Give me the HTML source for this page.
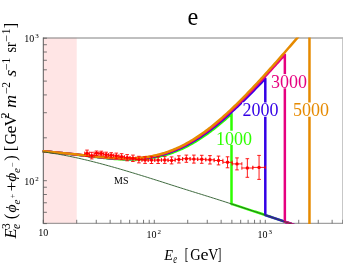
<!DOCTYPE html>
<html><head><meta charset="utf-8"><title>e</title>
<style>
html,body{margin:0;padding:0;background:#fff;}
body{width:343px;height:265px;overflow:hidden;}
svg{display:block;will-change:transform;}
text{font-family:"Liberation Serif","Times New Roman",serif;fill:#000;}
.it{font-style:italic;}
</style></head><body>
<svg width="343" height="265" viewBox="0 0 343 265">
<rect x="0" y="0" width="343" height="265" fill="#fff"/>
<defs><clipPath id="cp"><rect x="42.3" y="37.5" width="301" height="186.4"/></clipPath></defs>
<rect x="43.30" y="37.70" width="33.41" height="186.40" fill="#ffe5e5"/>
<g stroke-width="1" fill="none">
<path d="M43.30 38.00 H343.00" stroke="#808080"/>
<path d="M342.80 38.20 V223.40" stroke="#b0b0b0"/>
<path d="M43.30 37.50 V223.80" stroke="#484848" stroke-width="0.9"/>
<path d="M42.90 223.30 H343.00" stroke="#8a8a8a"/>
<path d="M43.30 223.40 v-3.6 M76.71 223.40 v-3.6 M96.26 223.40 v-3.6 M110.13 223.40 v-3.6 M120.89 223.40 v-3.6 M129.67 223.40 v-3.6 M137.11 223.40 v-3.6 M143.54 223.40 v-3.6 M149.22 223.40 v-3.6 M154.30 223.40 v-3.6 M187.71 223.40 v-3.6 M207.26 223.40 v-3.6 M221.13 223.40 v-3.6 M231.89 223.40 v-3.6 M240.67 223.40 v-3.6 M248.11 223.40 v-3.6 M254.54 223.40 v-3.6 M260.22 223.40 v-3.6 M265.30 223.40 v-3.6 M298.71 223.40 v-3.6 M318.26 223.40 v-3.6 M332.13 223.40 v-3.6 M342.89 223.40 v-3.6 M43.30 223.60 h3.6 M43.30 212.31 h3.6 M43.30 202.77 h3.6 M43.30 194.51 h3.6 M43.30 187.22 h3.6 M43.30 180.70 h3.6 M43.30 137.80 h3.6 M43.30 112.71 h3.6 M43.30 94.91 h3.6 M43.30 81.10 h3.6 M43.30 69.81 h3.6 M43.30 60.27 h3.6 M43.30 52.01 h3.6 M43.30 44.72 h3.6 M43.30 38.20 h3.6" stroke="#555" stroke-width="0.8"/>
</g>
<g clip-path="url(#cp)" fill="none" stroke-linejoin="round">
<path d="M42.50 151.14 L44.00 151.29 L45.50 151.44 L47.00 151.59 L48.50 151.74 L50.00 151.89 L51.50 152.05 L53.00 152.20 L54.50 152.35 L56.00 152.51 L57.50 152.66 L59.00 152.82 L60.50 152.97 L62.00 153.13 L63.50 153.28 L65.00 153.44 L66.50 153.60 L68.00 153.76 L69.50 153.92 L71.00 154.09 L72.50 154.26 L74.00 154.42 L75.50 154.60 L77.00 154.77 L78.50 154.95 L80.00 155.12 L81.50 155.30 L83.00 155.49 L84.50 155.67 L86.00 155.85 L87.50 156.03 L89.00 156.22 L90.50 156.40 L92.00 156.58 L93.50 156.76 L95.00 156.94 L96.50 157.12 L98.00 157.30 L99.50 157.47 L101.00 157.63 L102.50 157.80 L104.00 157.96 L105.50 158.11 L107.00 158.26 L108.50 158.40 L110.00 158.54 L111.50 158.67 L113.00 158.79 L114.50 158.91 L116.00 159.01 L117.50 159.11 L119.00 159.20 L120.50 159.28 L122.00 159.35 L123.50 159.40 L125.00 159.45 L126.50 159.49 L128.00 159.51 L129.50 159.52 L131.00 159.52 L132.50 159.51 L134.00 159.48 L135.50 159.43 L137.00 159.38 L138.50 159.30 L140.00 159.21 L141.50 159.11 L143.00 158.99 L144.50 158.85 L146.00 158.69 L147.50 158.52 L149.00 158.33 L150.50 158.11 L152.00 157.88 L153.50 157.63 L155.00 157.36 L156.50 157.07 L158.00 156.76 L159.50 156.43 L161.00 156.08 L162.50 155.70 L164.00 155.31 L165.50 154.89 L167.00 154.45 L168.50 153.98 L170.00 153.50 L171.50 152.99 L173.00 152.46 L174.50 151.90 L176.00 151.32 L177.50 150.71 L179.00 150.09 L180.50 149.44 L182.00 148.76 L183.50 148.06 L185.00 147.34 L186.50 146.59 L188.00 145.82 L189.50 145.02 L191.00 144.20 L192.50 143.36 L194.00 142.49 L195.50 141.60 L197.00 140.69 L198.50 139.75 L200.00 138.79 L201.50 137.81 L203.00 136.81 L204.50 135.78 L206.00 134.73 L207.50 133.66 L209.00 132.57 L210.50 131.46 L212.00 130.32 L213.50 129.17 L215.00 128.00 L216.50 126.80 L218.00 125.59 L219.50 124.36 L221.00 123.11 L222.50 121.84 L224.00 120.55 L225.50 119.25 L227.00 117.93 L228.50 116.59 L230.00 115.24 L231.50 113.87 L231.50 203.94 L233.00 204.43 L234.50 204.92 L236.00 205.41 L237.50 205.90 L239.00 206.39 L240.50 206.88 L242.00 207.37 L243.50 207.86 L245.00 208.35 L246.50 208.85 L248.00 209.34 L249.50 209.83 L251.00 210.33 L252.50 210.82 L254.00 211.32 L255.50 211.81 L257.00 212.31 L258.50 212.81 L260.00 213.30 L261.50 213.80 L263.00 214.30 L264.50 214.80 L266.00 215.30 L267.50 215.81 L269.00 216.31 L270.50 216.81 L272.00 217.32 L273.50 217.83 L275.00 218.34 L276.50 218.85 L278.00 219.36 L279.50 219.87 L281.00 220.38 L282.50 220.90 L284.00 221.42 L285.50 221.94 L287.00 222.46 L288.50 222.98 L290.00 223.50 L291.50 224.03 L293.00 224.56 L294.50 225.09" stroke="#2eff00" stroke-width="2.5"/>
<path d="M42.50 151.13 L44.00 151.27 L45.50 151.42 L47.00 151.57 L48.50 151.72 L50.00 151.86 L51.50 152.01 L53.00 152.17 L54.50 152.32 L56.00 152.46 L57.50 152.61 L59.00 152.76 L60.50 152.91 L62.00 153.06 L63.50 153.21 L65.00 153.36 L66.50 153.51 L68.00 153.67 L69.50 153.82 L71.00 153.98 L72.50 154.14 L74.00 154.30 L75.50 154.46 L77.00 154.63 L78.50 154.80 L80.00 154.97 L81.50 155.14 L83.00 155.31 L84.50 155.48 L86.00 155.66 L87.50 155.83 L89.00 156.01 L90.50 156.18 L92.00 156.35 L93.50 156.52 L95.00 156.69 L96.50 156.86 L98.00 157.02 L99.50 157.18 L101.00 157.34 L102.50 157.49 L104.00 157.64 L105.50 157.78 L107.00 157.92 L108.50 158.05 L110.00 158.17 L111.50 158.28 L113.00 158.39 L114.50 158.49 L116.00 158.58 L117.50 158.67 L119.00 158.74 L120.50 158.80 L122.00 158.85 L123.50 158.90 L125.00 158.93 L126.50 158.94 L128.00 158.95 L129.50 158.94 L131.00 158.92 L132.50 158.89 L134.00 158.84 L135.50 158.77 L137.00 158.69 L138.50 158.60 L140.00 158.49 L141.50 158.36 L143.00 158.22 L144.50 158.06 L146.00 157.88 L147.50 157.68 L149.00 157.46 L150.50 157.23 L152.00 156.97 L153.50 156.70 L155.00 156.40 L156.50 156.09 L158.00 155.75 L159.50 155.39 L161.00 155.01 L162.50 154.61 L164.00 154.19 L165.50 153.75 L167.00 153.28 L168.50 152.79 L170.00 152.28 L171.50 151.74 L173.00 151.18 L174.50 150.60 L176.00 149.99 L177.50 149.36 L179.00 148.71 L180.50 148.03 L182.00 147.33 L183.50 146.61 L185.00 145.86 L186.50 145.09 L188.00 144.29 L189.50 143.48 L191.00 142.64 L192.50 141.77 L194.00 140.88 L195.50 139.97 L197.00 139.04 L198.50 138.09 L200.00 137.11 L201.50 136.11 L203.00 135.09 L204.50 134.05 L206.00 132.99 L207.50 131.91 L209.00 130.80 L210.50 129.68 L212.00 128.54 L213.50 127.37 L215.00 126.19 L216.50 124.99 L218.00 123.78 L219.50 122.54 L221.00 121.29 L222.50 120.02 L224.00 118.74 L225.50 117.43 L227.00 116.12 L228.50 114.79 L230.00 113.44 L231.50 112.08 L233.00 110.70 L234.50 109.32 L236.00 107.92 L237.50 106.50 L239.00 105.08 L240.50 103.64 L242.00 102.19 L243.50 100.73 L245.00 99.26 L246.50 97.79 L248.00 96.30 L249.50 94.80 L251.00 93.29 L252.50 91.78 L254.00 90.26 L255.50 88.73 L257.00 87.19 L258.50 85.65 L260.00 84.10 L261.50 82.54 L263.00 80.98 L264.50 79.41 L265.30 78.58 L265.30 215.07 L266.80 215.57 L268.30 216.07 L269.80 216.58 L271.30 217.08 L272.80 217.59 L274.30 218.10 L275.80 218.61 L277.30 219.12 L278.80 219.63 L280.30 220.14 L281.80 220.66 L283.30 221.17 L284.80 221.69 L286.30 222.21 L287.80 222.73 L289.30 223.26 L290.80 223.78 L292.30 224.31 L293.80 224.84 L295.30 225.37" stroke="#3300e6" stroke-width="2.5"/>
<path d="M42.50 151.12 L44.00 151.27 L45.50 151.41 L47.00 151.56 L48.50 151.71 L50.00 151.85 L51.50 152.00 L53.00 152.15 L54.50 152.30 L56.00 152.45 L57.50 152.59 L59.00 152.74 L60.50 152.89 L62.00 153.03 L63.50 153.18 L65.00 153.33 L66.50 153.48 L68.00 153.63 L69.50 153.78 L71.00 153.93 L72.50 154.09 L74.00 154.25 L75.50 154.41 L77.00 154.57 L78.50 154.73 L80.00 154.90 L81.50 155.07 L83.00 155.23 L84.50 155.40 L86.00 155.57 L87.50 155.74 L89.00 155.92 L90.50 156.08 L92.00 156.25 L93.50 156.42 L95.00 156.58 L96.50 156.75 L98.00 156.90 L99.50 157.06 L101.00 157.21 L102.50 157.36 L104.00 157.50 L105.50 157.64 L107.00 157.77 L108.50 157.89 L110.00 158.01 L111.50 158.12 L113.00 158.22 L114.50 158.31 L116.00 158.40 L117.50 158.47 L119.00 158.54 L120.50 158.59 L122.00 158.64 L123.50 158.67 L125.00 158.69 L126.50 158.70 L128.00 158.70 L129.50 158.68 L131.00 158.65 L132.50 158.61 L134.00 158.55 L135.50 158.47 L137.00 158.38 L138.50 158.28 L140.00 158.16 L141.50 158.02 L143.00 157.86 L144.50 157.69 L146.00 157.50 L147.50 157.29 L149.00 157.06 L150.50 156.81 L152.00 156.54 L153.50 156.25 L155.00 155.94 L156.50 155.61 L158.00 155.26 L159.50 154.89 L161.00 154.50 L162.50 154.08 L164.00 153.64 L165.50 153.18 L167.00 152.70 L168.50 152.19 L170.00 151.66 L171.50 151.11 L173.00 150.53 L174.50 149.93 L176.00 149.31 L177.50 148.66 L179.00 147.99 L180.50 147.29 L182.00 146.57 L183.50 145.83 L185.00 145.06 L186.50 144.27 L188.00 143.45 L189.50 142.62 L191.00 141.75 L192.50 140.87 L194.00 139.96 L195.50 139.03 L197.00 138.07 L198.50 137.10 L200.00 136.10 L201.50 135.08 L203.00 134.04 L204.50 132.97 L206.00 131.89 L207.50 130.78 L209.00 129.65 L210.50 128.51 L212.00 127.34 L213.50 126.15 L215.00 124.95 L216.50 123.72 L218.00 122.48 L219.50 121.22 L221.00 119.94 L222.50 118.64 L224.00 117.33 L225.50 116.00 L227.00 114.66 L228.50 113.30 L230.00 111.92 L231.50 110.53 L233.00 109.13 L234.50 107.71 L236.00 106.28 L237.50 104.84 L239.00 103.38 L240.50 101.91 L242.00 100.43 L243.50 98.94 L245.00 97.43 L246.50 95.92 L248.00 94.39 L249.50 92.86 L251.00 91.32 L252.50 89.76 L254.00 88.20 L255.50 86.63 L257.00 85.06 L258.50 83.47 L260.00 81.88 L261.50 80.28 L263.00 78.67 L264.50 77.06 L266.00 75.44 L267.50 73.82 L269.00 72.19 L270.50 70.55 L272.00 68.91 L273.50 67.27 L275.00 65.62 L276.50 63.97 L278.00 62.31 L279.50 60.66 L281.00 58.99 L282.50 57.33 L284.00 55.66 L284.85 54.72 L284.85 221.71 L286.35 222.23 L287.85 222.75 L289.35 223.27 L290.85 223.80 L292.35 224.33 L293.85 224.86 L295.35 225.39" stroke="#e6007f" stroke-width="2.5"/>
<path d="M42.50 151.12 L44.00 151.26 L45.50 151.40 L47.00 151.55 L48.50 151.69 L50.00 151.84 L51.50 151.99 L53.00 152.14 L54.50 152.28 L56.00 152.43 L57.50 152.57 L59.00 152.72 L60.50 152.86 L62.00 153.00 L63.50 153.15 L65.00 153.29 L66.50 153.44 L68.00 153.58 L69.50 153.73 L71.00 153.88 L72.50 154.04 L74.00 154.19 L75.50 154.35 L77.00 154.50 L78.50 154.67 L80.00 154.83 L81.50 154.99 L83.00 155.16 L84.50 155.32 L86.00 155.49 L87.50 155.65 L89.00 155.82 L90.50 155.99 L92.00 156.15 L93.50 156.31 L95.00 156.47 L96.50 156.63 L98.00 156.78 L99.50 156.93 L101.00 157.08 L102.50 157.22 L104.00 157.36 L105.50 157.49 L107.00 157.61 L108.50 157.73 L110.00 157.84 L111.50 157.94 L113.00 158.04 L114.50 158.13 L116.00 158.20 L117.50 158.27 L119.00 158.33 L120.50 158.38 L122.00 158.41 L123.50 158.44 L125.00 158.45 L126.50 158.45 L128.00 158.44 L129.50 158.41 L131.00 158.37 L132.50 158.32 L134.00 158.25 L135.50 158.17 L137.00 158.07 L138.50 157.95 L140.00 157.82 L141.50 157.67 L143.00 157.50 L144.50 157.32 L146.00 157.11 L147.50 156.89 L149.00 156.65 L150.50 156.39 L152.00 156.11 L153.50 155.80 L155.00 155.48 L156.50 155.14 L158.00 154.77 L159.50 154.39 L161.00 153.98 L162.50 153.55 L164.00 153.09 L165.50 152.62 L167.00 152.12 L168.50 151.59 L170.00 151.05 L171.50 150.48 L173.00 149.88 L174.50 149.27 L176.00 148.63 L177.50 147.96 L179.00 147.27 L180.50 146.56 L182.00 145.82 L183.50 145.06 L185.00 144.28 L186.50 143.47 L188.00 142.63 L189.50 141.78 L191.00 140.90 L192.50 139.99 L194.00 139.07 L195.50 138.12 L197.00 137.14 L198.50 136.15 L200.00 135.13 L201.50 134.09 L203.00 133.03 L204.50 131.94 L206.00 130.84 L207.50 129.71 L209.00 128.56 L210.50 127.40 L212.00 126.21 L213.50 125.00 L215.00 123.78 L216.50 122.53 L218.00 121.27 L219.50 119.99 L221.00 118.69 L222.50 117.37 L224.00 116.04 L225.50 114.69 L227.00 113.32 L228.50 111.94 L230.00 110.54 L231.50 109.13 L233.00 107.70 L234.50 106.26 L236.00 104.81 L237.50 103.34 L239.00 101.86 L240.50 100.37 L242.00 98.86 L243.50 97.35 L245.00 95.82 L246.50 94.28 L248.00 92.73 L249.50 91.17 L251.00 89.60 L252.50 88.02 L254.00 86.43 L255.50 84.83 L257.00 83.23 L258.50 81.62 L260.00 79.99 L261.50 78.36 L263.00 76.73 L264.50 75.08 L266.00 73.43 L267.50 71.78 L269.00 70.11 L270.50 68.45 L272.00 66.77 L273.50 65.09 L275.00 63.41 L276.50 61.72 L278.00 60.02 L279.50 58.32 L281.00 56.62 L282.50 54.91 L284.00 53.20 L285.50 51.49 L287.00 49.77 L288.50 48.05 L290.00 46.33 L291.50 44.60 L293.00 42.87 L294.50 41.14 L296.00 39.41 L297.50 37.67 L299.00 35.93" stroke="#e68a00" stroke-width="2.5"/>
<path d="M309.47 30 L309.47 230" stroke="#e68a00" stroke-width="2.5"/>
<path d="M42.50 151.88 L44.00 152.06 L45.50 152.26 L47.00 152.45 L48.50 152.66 L50.00 152.88 L51.50 153.10 L53.00 153.33 L54.50 153.57 L56.00 153.81 L57.50 154.06 L59.00 154.32 L60.50 154.58 L62.00 154.85 L63.50 155.13 L65.00 155.41 L66.50 155.70 L68.00 155.99 L69.50 156.30 L71.00 156.60 L72.50 156.91 L74.00 157.23 L75.50 157.55 L77.00 157.88 L78.50 158.22 L80.00 158.55 L81.50 158.90 L83.00 159.25 L84.50 159.60 L86.00 159.96 L87.50 160.32 L89.00 160.68 L90.50 161.05 L92.00 161.43 L93.50 161.81 L95.00 162.19 L96.50 162.58 L98.00 162.97 L99.50 163.36 L101.00 163.76 L102.50 164.16 L104.00 164.56 L105.50 164.97 L107.00 165.38 L108.50 165.80 L110.00 166.21 L111.50 166.63 L113.00 167.06 L114.50 167.48 L116.00 167.91 L117.50 168.34 L119.00 168.77 L120.50 169.21 L122.00 169.65 L123.50 170.09 L125.00 170.53 L126.50 170.97 L128.00 171.42 L129.50 171.87 L131.00 172.32 L132.50 172.77 L134.00 173.23 L135.50 173.68 L137.00 174.14 L138.50 174.60 L140.00 175.06 L141.50 175.52 L143.00 175.99 L144.50 176.45 L146.00 176.92 L147.50 177.39 L149.00 177.86 L150.50 178.33 L152.00 178.80 L153.50 179.27 L155.00 179.74 L156.50 180.22 L158.00 180.69 L159.50 181.17 L161.00 181.64 L162.50 182.12 L164.00 182.60 L165.50 183.08 L167.00 183.56 L168.50 184.04 L170.00 184.52 L171.50 185.00 L173.00 185.48 L174.50 185.95 L176.00 186.43 L177.50 186.91 L179.00 187.38 L180.50 187.85 L182.00 188.33 L183.50 188.80 L185.00 189.27 L186.50 189.74 L188.00 190.21 L189.50 190.68 L191.00 191.15 L192.50 191.61 L194.00 192.08 L195.50 192.55 L197.00 193.02 L198.50 193.49 L200.00 193.95 L201.50 194.42 L203.00 194.89 L204.50 195.36 L206.00 195.83 L207.50 196.29 L209.00 196.76 L210.50 197.23 L212.00 197.71 L213.50 198.18 L215.00 198.65 L216.50 199.12 L218.00 199.60 L219.50 200.08 L221.00 200.55 L222.50 201.03 L224.00 201.51 L225.50 201.99 L227.00 202.48 L228.50 202.96 L230.00 203.45 L231.50 203.94 L233.00 204.43 L234.50 204.92 L236.00 205.41 L237.50 205.90 L239.00 206.39 L240.50 206.88 L242.00 207.37 L243.50 207.86 L245.00 208.35 L246.50 208.85 L248.00 209.34 L249.50 209.83 L251.00 210.33 L252.50 210.82 L254.00 211.32 L255.50 211.81 L257.00 212.31 L258.50 212.81 L260.00 213.30 L261.50 213.80 L263.00 214.30 L264.50 214.80 L266.00 215.30 L267.50 215.81 L269.00 216.31 L270.50 216.81 L272.00 217.32 L273.50 217.83 L275.00 218.34 L276.50 218.85 L278.00 219.36 L279.50 219.87 L281.00 220.38 L282.50 220.90 L284.00 221.42 L285.50 221.94 L287.00 222.46 L288.50 222.98 L290.00 223.50 L291.50 224.03 L293.00 224.56 L294.50 225.09" stroke="#2a5a2a" stroke-width="0.9"/>
</g>
<g stroke="#ff0000" stroke-width="0.9" fill="none">
<path d="M87.03 150.10 V156.50 M85.23 150.10 h3.6 M85.23 156.50 h3.6 M84.69 153.30 H89.36 M84.69 151.60 v3.4 M89.36 151.60 v3.4"/>
<path d="M91.74 152.30 V158.90 M89.94 152.30 h3.6 M89.94 158.90 h3.6 M89.36 155.60 H94.12 M89.36 153.90 v3.4 M94.12 153.90 v3.4"/>
<path d="M96.52 151.00 V155.60 M94.72 151.00 h3.6 M94.72 155.60 h3.6 M94.12 153.30 H98.92 M94.12 151.60 v3.4 M98.92 151.60 v3.4"/>
<path d="M101.30 151.20 V155.80 M99.50 151.20 h3.6 M99.50 155.80 h3.6 M98.92 153.50 H103.69 M98.92 151.80 v3.4 M103.69 151.80 v3.4"/>
<path d="M106.18 152.20 V157.20 M104.38 152.20 h3.6 M104.38 157.20 h3.6 M103.69 154.70 H108.66 M103.69 153.00 v3.4 M108.66 153.00 v3.4"/>
<path d="M111.19 152.70 V157.90 M109.39 152.70 h3.6 M109.39 157.90 h3.6 M108.66 155.30 H113.73 M108.66 153.60 v3.4 M113.73 153.60 v3.4"/>
<path d="M116.32 153.10 V158.70 M114.52 153.10 h3.6 M114.52 158.70 h3.6 M113.73 155.90 H118.92 M113.73 154.20 v3.4 M118.92 154.20 v3.4"/>
<path d="M121.62 153.70 V159.70 M119.82 153.70 h3.6 M119.82 159.70 h3.6 M118.92 156.70 H124.33 M118.92 155.00 v3.4 M124.33 155.00 v3.4"/>
<path d="M127.16 154.60 V160.80 M125.36 154.60 h3.6 M125.36 160.80 h3.6 M124.33 157.70 H130.00 M124.33 156.00 v3.4 M130.00 156.00 v3.4"/>
<path d="M132.92 155.10 V161.50 M131.12 155.10 h3.6 M131.12 161.50 h3.6 M130.00 158.30 H135.85 M130.00 156.60 v3.4 M135.85 156.60 v3.4"/>
<path d="M138.90 156.30 V162.90 M137.10 156.30 h3.6 M137.10 162.90 h3.6 M135.85 159.60 H141.95 M135.85 157.90 v3.4 M141.95 157.90 v3.4"/>
<path d="M145.07 156.80 V163.40 M143.27 156.80 h3.6 M143.27 163.40 h3.6 M141.95 160.10 H148.19 M141.95 158.40 v3.4 M148.19 158.40 v3.4"/>
<path d="M151.49 156.70 V163.50 M149.69 156.70 h3.6 M149.69 163.50 h3.6 M148.19 160.10 H154.78 M148.19 158.40 v3.4 M154.78 158.40 v3.4"/>
<path d="M158.12 156.70 V163.50 M156.32 156.70 h3.6 M156.32 163.50 h3.6 M154.78 160.10 H161.45 M154.78 158.40 v3.4 M161.45 158.40 v3.4"/>
<path d="M164.75 156.60 V163.40 M162.95 156.60 h3.6 M162.95 163.40 h3.6 M161.45 160.00 H168.05 M161.45 158.30 v3.4 M168.05 158.30 v3.4"/>
<path d="M171.58 156.90 V163.90 M169.78 156.90 h3.6 M169.78 163.90 h3.6 M168.05 160.40 H175.11 M168.05 158.70 v3.4 M175.11 158.70 v3.4"/>
<path d="M178.88 155.80 V163.00 M177.08 155.80 h3.6 M177.08 163.00 h3.6 M175.11 159.40 H182.64 M175.11 157.70 v3.4 M182.64 157.70 v3.4"/>
<path d="M186.35 155.10 V162.30 M184.55 155.10 h3.6 M184.55 162.30 h3.6 M182.64 158.70 H190.07 M182.64 157.00 v3.4 M190.07 157.00 v3.4"/>
<path d="M193.88 155.10 V163.10 M192.08 155.10 h3.6 M192.08 163.10 h3.6 M190.07 159.10 H197.69 M190.07 157.40 v3.4 M197.69 157.40 v3.4"/>
<path d="M201.74 155.30 V163.30 M199.94 155.30 h3.6 M199.94 163.30 h3.6 M197.69 159.30 H205.79 M197.69 157.60 v3.4 M205.79 157.60 v3.4"/>
<path d="M209.96 155.60 V164.00 M208.16 155.60 h3.6 M208.16 164.00 h3.6 M205.79 159.80 H214.14 M205.79 158.10 v3.4 M214.14 158.10 v3.4"/>
<path d="M218.52 156.10 V164.90 M216.72 156.10 h3.6 M216.72 164.90 h3.6 M214.14 160.50 H222.90 M214.14 158.80 v3.4 M222.90 158.80 v3.4"/>
<path d="M227.54 156.80 V167.80 M225.74 156.80 h3.6 M225.74 167.80 h3.6 M222.90 162.30 H232.17 M222.90 160.60 v3.4 M232.17 160.60 v3.4"/>
<path d="M237.02 157.90 V169.90 M235.22 157.90 h3.6 M235.22 169.90 h3.6 M232.17 163.90 H241.87 M232.17 162.20 v3.4 M241.87 162.20 v3.4"/>
<path d="M247.35 158.70 V177.30 M245.55 158.70 h3.6 M245.55 177.30 h3.6 M241.87 168.00 H252.83 M241.87 166.30 v3.4 M252.83 166.30 v3.4"/>
<path d="M259.06 155.40 V179.40 M257.26 155.40 h3.6 M257.26 179.40 h3.6 M252.83 167.40 H265.30 M252.83 165.70 v3.4 M265.30 165.70 v3.4"/>
</g>
<g fill="#ff0000">
<circle cx="87.03" cy="153.30" r="1.7"/>
<circle cx="91.74" cy="155.60" r="1.7"/>
<circle cx="96.52" cy="153.30" r="1.7"/>
<circle cx="101.30" cy="153.50" r="1.7"/>
<circle cx="106.18" cy="154.70" r="1.7"/>
<circle cx="111.19" cy="155.30" r="1.7"/>
<circle cx="116.32" cy="155.90" r="1.7"/>
<circle cx="121.62" cy="156.70" r="1.7"/>
<circle cx="127.16" cy="157.70" r="1.7"/>
<circle cx="132.92" cy="158.30" r="1.7"/>
<circle cx="138.90" cy="159.60" r="1.7"/>
<circle cx="145.07" cy="160.10" r="1.7"/>
<circle cx="151.49" cy="160.10" r="1.7"/>
<circle cx="158.12" cy="160.10" r="1.7"/>
<circle cx="164.75" cy="160.00" r="1.7"/>
<circle cx="171.58" cy="160.40" r="1.7"/>
<circle cx="178.88" cy="159.40" r="1.7"/>
<circle cx="186.35" cy="158.70" r="1.7"/>
<circle cx="193.88" cy="159.10" r="1.7"/>
<circle cx="201.74" cy="159.30" r="1.7"/>
<circle cx="209.96" cy="159.80" r="1.7"/>
<circle cx="218.52" cy="160.50" r="1.7"/>
<circle cx="227.54" cy="162.30" r="1.7"/>
<circle cx="237.02" cy="163.90" r="1.7"/>
<circle cx="247.35" cy="168.00" r="1.7"/>
<circle cx="259.06" cy="167.40" r="1.7"/>
</g>
<text x="43.30" y="235.7" font-size="10" text-anchor="middle">10</text>
<text x="146.60" y="237.70" font-size="10">10<tspan font-size="7" dy="-4.0" dx="0.9">2</tspan></text>
<text x="257.60" y="237.70" font-size="10">10<tspan font-size="7" dy="-4.0" dx="0.9">3</tspan></text>
<text x="24.3" y="184.8" font-size="10">10<tspan font-size="7" dy="-4.0" dx="0.9">2</tspan></text>
<text x="24.3" y="42.1" font-size="10">10<tspan font-size="7" dy="-4.0" dx="0.9">3</tspan></text>
<text x="114" y="183.9" font-size="10">MS</text>
<rect x="215.5" y="130.7" width="37" height="14.2" fill="#fff"/>
<text x="216.0" y="144.6" font-size="18" style="fill:#2eff00">1000</text>
<rect x="242.1" y="102.5" width="37" height="14.2" fill="#fff"/>
<text x="242.6" y="116.4" font-size="18" style="fill:#3300e6">2000</text>
<rect x="270.5" y="74.1" width="37" height="14.2" fill="#fff"/>
<text x="271.0" y="88.0" font-size="18" style="fill:#e6007f">3000</text>
<rect x="292.5" y="102.5" width="37" height="14.2" fill="#fff"/>
<text x="293.0" y="116.4" font-size="18" style="fill:#e68a00">5000</text>
<text x="192.9" y="24.6" font-size="24.3" text-anchor="middle">e</text>
<g transform="translate(0,260.4)"><text x="164.27" y="0.00" font-size="15.6" class="it" textLength="8.76" lengthAdjust="spacingAndGlyphs">E</text><text x="173.34" y="3.00" font-size="12.5" class="it" textLength="3.75" lengthAdjust="spacingAndGlyphs">e</text><text x="184.80" y="0.00" font-size="16.0" textLength="3.59" lengthAdjust="spacingAndGlyphs">[</text><text x="190.21" y="0.00" font-size="16.0" textLength="10.45" lengthAdjust="spacingAndGlyphs">G</text><text x="200.49" y="0.00" font-size="16.0" textLength="8.03" lengthAdjust="spacingAndGlyphs">e</text><text x="208.14" y="0.00" font-size="16.0" textLength="10.01" lengthAdjust="spacingAndGlyphs">V</text><text x="217.81" y="0.00" font-size="16.0" textLength="3.59" lengthAdjust="spacingAndGlyphs">]</text></g>
<g transform="translate(16.3,239.5) rotate(-90)"><text x="0.99" y="0.00" font-size="16.5" class="it" textLength="10.07" lengthAdjust="spacingAndGlyphs">E</text><text x="10.45" y="-6.40" font-size="11.5">3</text><text x="10.55" y="3.50" font-size="11.5" class="it">e</text><text x="20.27" y="0.00" font-size="16.5">(</text><text x="27.04" y="-0.20" font-size="14.7" class="it" textLength="8.02" lengthAdjust="spacingAndGlyphs">ϕ</text><text x="35.06" y="3.60" font-size="11.0" class="it">e</text><text x="41.21" y="-1.00" font-size="7.5" textLength="4.36" lengthAdjust="spacingAndGlyphs">+</text><text x="48.02" y="0.60" font-size="16.5" textLength="9.94" lengthAdjust="spacingAndGlyphs">+</text><text x="57.79" y="-0.20" font-size="14.7" class="it" textLength="9.23" lengthAdjust="spacingAndGlyphs">ϕ</text><text x="66.56" y="3.60" font-size="11.0" class="it">e</text><text x="72.18" y="-1.00" font-size="7.5" textLength="4.73" lengthAdjust="spacingAndGlyphs">−</text><text x="78.87" y="0.00" font-size="16.5">)</text><text x="88.28" y="0.00" font-size="16.5">[</text><text x="94.94" y="0.00" font-size="16.5" textLength="11.67" lengthAdjust="spacingAndGlyphs">G</text><text x="105.91" y="0.00" font-size="16.5" textLength="7.79" lengthAdjust="spacingAndGlyphs">e</text><text x="113.22" y="0.00" font-size="16.5" textLength="11.46" lengthAdjust="spacingAndGlyphs">V</text><text x="121.07" y="-7.30" font-size="12.0">2</text><text x="131.54" y="0.00" font-size="16.5" class="it" textLength="13.12" lengthAdjust="spacingAndGlyphs">m</text><text x="145.40" y="-6.60" font-size="11.5" textLength="6.79" lengthAdjust="spacingAndGlyphs">−</text><text x="151.89" y="-6.60" font-size="11.5">2</text><text x="162.68" y="0.00" font-size="16.5" class="it" textLength="6.96" lengthAdjust="spacingAndGlyphs">s</text><text x="168.96" y="-6.60" font-size="11.5" textLength="7.27" lengthAdjust="spacingAndGlyphs">−</text><text x="175.99" y="-6.60" font-size="11.5">1</text><text x="186.91" y="0.00" font-size="16.5" textLength="10.31" lengthAdjust="spacingAndGlyphs">sr</text><text x="197.56" y="-6.60" font-size="11.5" textLength="7.27" lengthAdjust="spacingAndGlyphs">−</text><text x="205.29" y="-6.60" font-size="11.5">1</text><text x="211.20" y="0.00" font-size="16.5">]</text></g>
</svg>
</body></html>
